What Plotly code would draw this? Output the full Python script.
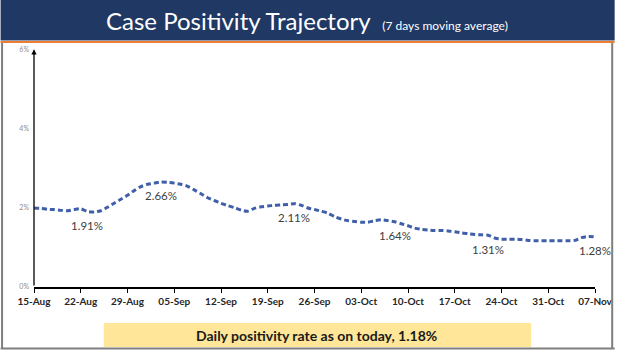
import datetime as dt
import plotly.graph_objects as go

# ---- data ----
start_date = "2020-08-15"
positivity = [2.00, 1.99, 1.97, 1.96, 1.94, 1.93, 1.96, 1.98, 1.91, 1.90,
              1.93, 2.02, 2.12, 2.22, 2.32, 2.44, 2.54, 2.60, 2.63, 2.66,
              2.65, 2.63, 2.60, 2.55, 2.46, 2.36, 2.26, 2.19, 2.12, 2.06,
              2.01, 1.95, 1.92, 1.99, 2.03, 2.05, 2.07, 2.08, 2.09, 2.11,
              2.07, 2.00, 1.96, 1.92, 1.87, 1.78, 1.72, 1.68, 1.66, 1.64,
              1.64, 1.68, 1.70, 1.68, 1.65, 1.60, 1.55, 1.49, 1.46, 1.44,
              1.43, 1.43, 1.42, 1.40, 1.37, 1.35, 1.33, 1.32, 1.31, 1.24,
              1.21, 1.21, 1.21, 1.20, 1.18, 1.17, 1.17, 1.17, 1.17, 1.17,
              1.17, 1.18, 1.25, 1.28, 1.27]
label_days = [8, 19, 39, 54, 68, 84]
label_texts = ["1.91%", "2.66%", "2.11%", "1.64%", "1.31%", "1.28%"]
y_ticks = [0, 2, 4, 6]
y_tick_labels = ["0%", "2%", "4%", "6%"]
title_text = "Case Positivity Trajectory"
subtitle_text = "(7 days moving average)"
footer_text = "Daily positivity rate as on today, 1.18%"

d0 = dt.date.fromisoformat(start_date)
dates = [d0 + dt.timedelta(days=i) for i in range(len(positivity))]
tick_dates = dates[::7]

W, H = 625, 351
ML, MR, MT, MB = 34, 20, 50, 64
PW, PH = W - ML - MR, H - MT - MB

def px(x):
    return (x - ML) / PW

def py(y):
    return (H - MB - y) / PH

fig = go.Figure()
fig.add_trace(go.Scatter(
    x=dates, y=positivity, mode="lines",
    line=dict(color="#3F5FA8", width=3, dash="5px,3px", shape="spline", smoothing=0.8),
    hoverinfo="skip", showlegend=False))

annotations = []
for d, t in zip(label_days, label_texts):
    annotations.append(dict(x=dates[d], y=positivity[d], xref="x", yref="y", text=t,
                            showarrow=False, yshift=-14,
                            font=dict(family="Lato", size=11.5, color="#404040")))
# y axis with arrow
annotations.append(dict(x=dates[0], y=6.02, ax=dates[0], ay=0, xref="x", yref="y",
                        axref="x", ayref="y", text="", showarrow=True,
                        arrowhead=2, arrowsize=0.8, arrowwidth=1.3, arrowcolor="#000000"))
# title
annotations.append(dict(x=px(312), y=py(21), xref="paper", yref="paper",
                        text=f"{title_text}  <span style='font-size:12px'>{subtitle_text}</span>",
                        showarrow=False, xanchor="center", yanchor="middle",
                        font=dict(family="Lato", size=24, color="#FFFFFF")))
# footer
annotations.append(dict(x=px(322), y=py(335), xref="paper", yref="paper",
                        text=f"<b>{footer_text}</b>", showarrow=False,
                        xanchor="center", yanchor="middle",
                        font=dict(family="Lato", size=14, color="#1A1A1A")))

shapes = [
    dict(type="rect", xref="paper", yref="paper", x0=px(0), x1=px(W), y0=py(40.5), y1=py(0),
         fillcolor="#1F3864", line=dict(width=0), layer="below"),
    dict(type="line", xref="paper", yref="paper", x0=px(0), x1=px(W), y0=py(42), y1=py(42),
         line=dict(color="#ED7D31", width=2)),
    dict(type="line", xref="paper", yref="paper", x0=px(1.5), x1=px(1.5), y0=py(43), y1=py(349),
         line=dict(color="#7F7F7F", width=2)),
    dict(type="line", xref="paper", yref="paper", x0=px(622.5), x1=px(622.5), y0=py(43), y1=py(349),
         line=dict(color="#7F7F7F", width=2)),
    dict(type="line", xref="paper", yref="paper", x0=px(0), x1=px(W), y0=py(348.5), y1=py(348.5),
         line=dict(color="#7F7F7F", width=2)),
    dict(type="rect", xref="paper", yref="paper", x0=px(105), x1=px(540), y0=py(347), y1=py(323),
         fillcolor="#FFE699", line=dict(width=0), layer="below"),
]

fig.update_layout(
    width=W, height=H, margin=dict(l=ML, r=MR, t=MT, b=MB),
    paper_bgcolor="#FFFFFF", plot_bgcolor="#FFFFFF",
    annotations=annotations, shapes=shapes, showlegend=False,
    xaxis=dict(range=[dates[0], dates[-1]], tickvals=tick_dates,
               ticktext=[d.strftime("%d-%b") for d in tick_dates],
               showgrid=False, zeroline=False, showline=True, linecolor="#000000", linewidth=1.5,
               ticks="outside", ticklen=4, tickcolor="#000000", tickwidth=1,
               tickfont=dict(family="Lato", size=10, color="#262626", weight="bold"),
               fixedrange=True),
    yaxis=dict(range=[0, 6], tickvals=y_ticks, ticktext=y_tick_labels,
               showgrid=False, zeroline=False, showline=False,
               tickfont=dict(family="Lato", size=7, color="#8C8C8C"),
               ticklabelstandoff=4, fixedrange=True),
)

fig.write_html("out.html", config={"displayModeBar": False},
               post_script="document.body.style.margin='0';document.body.style.overflow='hidden';")
